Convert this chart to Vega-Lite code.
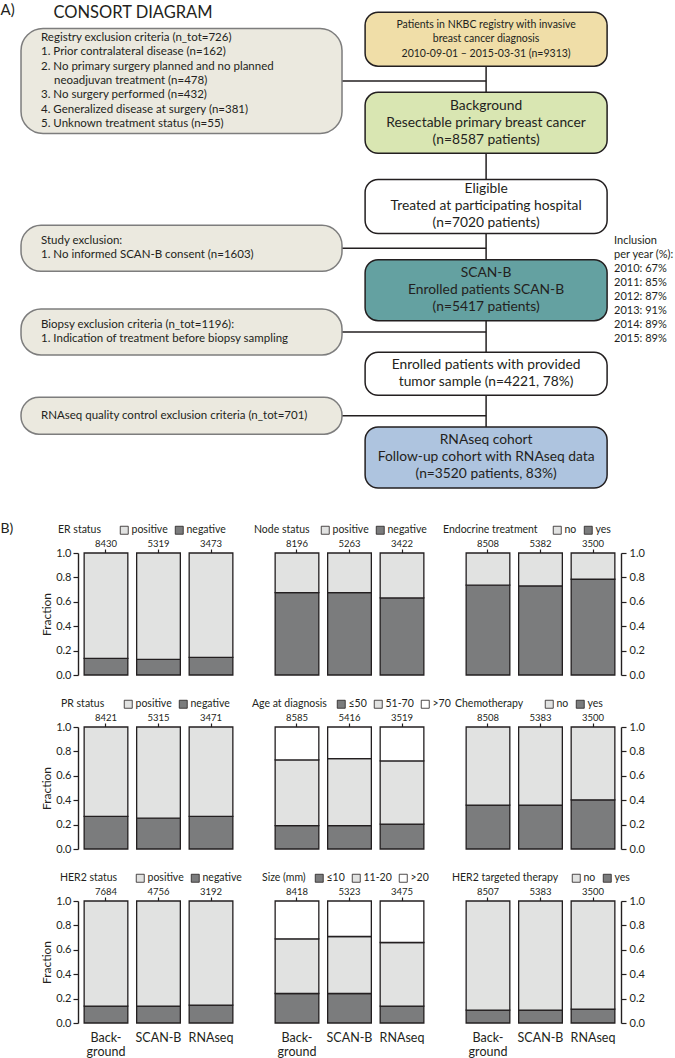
{
  "$schema": "https://vega.github.io/schema/vega-lite/v6.json",
  "padding": 0,
  "background": "white",
  "config": {
    "font": "Lato",
    "view": {"stroke": null},
    "axis": {"labelColor": "#231f20", "tickColor": "#231f20", "domainColor": "#231f20", "titleColor": "#231f20", "domainWidth": 1.4, "tickWidth": 1.2, "grid": false, "labelFont": "Lato", "titleFont": "Lato"},
    "legend": {"symbolType": "square", "symbolSize": 64, "symbolStrokeColor": "#231f20", "symbolStrokeWidth": 0.8, "labelFontSize": 10.5, "titleFontSize": 10.5, "titleFontWeight": "normal", "labelOffset": 2, "columnPadding": 5, "gridAlign": "none", "padding": 0, "labelColor": "#231f20", "titleColor": "#231f20", "titleAnchor": "middle", "titleBaseline": "middle"}
  },
  "datasets": {
    "links": [
      {"lane_a": "flow", "lane_b": "flow", "stage_a": "s0", "stage_b": "s5"},
      {"lane_a": "exclusion", "lane_b": "flow", "stage_a": "s0.5", "stage_b": "s0.5"},
      {"lane_a": "exclusion", "lane_b": "flow", "stage_a": "s2.5", "stage_b": "s2.5"},
      {"lane_a": "exclusion", "lane_b": "flow", "stage_a": "s3.5", "stage_b": "s3.5"},
      {"lane_a": "exclusion", "lane_b": "flow", "stage_a": "s4.5", "stage_b": "s4.5"}
    ],
    "boxes": [
      {"id": "nkbc", "lane": "flow", "stage": "s0", "tone": "registry", "label": "Patients in NKBC registry with invasive\nbreast cancer diagnosis\n2010-09-01 – 2015-03-31 (n=9313)"},
      {"id": "background", "lane": "flow", "stage": "s1", "tone": "background", "label": "Background\nResectable primary breast cancer\n(n=8587 patients)"},
      {"id": "eligible", "lane": "flow", "stage": "s2", "tone": "eligible", "label": "Eligible\nTreated at participating hospital\n(n=7020 patients)"},
      {"id": "scanb", "lane": "flow", "stage": "s3", "tone": "scanb", "label": "SCAN-B\nEnrolled patients SCAN-B\n(n=5417 patients)"},
      {"id": "sample", "lane": "flow", "stage": "s4", "tone": "sample", "label": "Enrolled patients with provided\ntumor sample (n=4221, 78%)"},
      {"id": "rnaseq", "lane": "flow", "stage": "s5", "tone": "rnaseq", "label": "RNAseq cohort\nFollow-up cohort with RNAseq data\n(n=3520 patients, 83%)"},
      {"id": "registry", "lane": "exclusion", "stage": "s0.5", "tone": "exclusion", "label": "Registry exclusion criteria (n_tot=726)\n1. Prior contralateral disease (n=162)\n2. No primary surgery planned and no planned"},
      {"id": "registry_cont", "lane": "exclusion", "stage": "s0.5", "tone": "exclusion", "label": "neoadjuvan treatment (n=478)"},
      {"id": "registry_rest", "lane": "exclusion", "stage": "s0.5", "tone": "exclusion", "label": "3. No surgery performed (n=432)\n4. Generalized disease at surgery (n=381)\n5. Unknown treatment status (n=55)"},
      {"id": "study", "lane": "exclusion", "stage": "s2.5", "tone": "exclusion", "label": "Study exclusion:\n1. No informed SCAN-B consent (n=1603)"},
      {"id": "biopsy", "lane": "exclusion", "stage": "s3.5", "tone": "exclusion", "label": "Biopsy exclusion criteria (n_tot=1196):\n1. Indication of treatment before biopsy sampling"},
      {"id": "qc", "lane": "exclusion", "stage": "s4.5", "tone": "exclusion", "label": "RNAseq quality control exclusion criteria (n_tot=701)"},
      {"id": "note", "lane": "flow", "stage": "s3", "tone": "note", "label": "Inclusion\nper year (%):\n2010: 67%\n2011: 85%\n2012: 87%\n2013: 91%\n2014: 89%\n2015: 89%"}
    ],
    "bars": [
      {"panel": "ER status", "cohort": "Background", "cat": "negative", "k": 1, "frac": 0.136, "n": 8430},
      {"panel": "ER status", "cohort": "Background", "cat": "positive", "k": 2, "frac": 0.864, "n": 8430},
      {"panel": "ER status", "cohort": "SCAN-B", "cat": "negative", "k": 1, "frac": 0.128, "n": 5319},
      {"panel": "ER status", "cohort": "SCAN-B", "cat": "positive", "k": 2, "frac": 0.872, "n": 5319},
      {"panel": "ER status", "cohort": "RNAseq", "cat": "negative", "k": 1, "frac": 0.144, "n": 3473},
      {"panel": "ER status", "cohort": "RNAseq", "cat": "positive", "k": 2, "frac": 0.856, "n": 3473},
      {"panel": "Node status", "cohort": "Background", "cat": "negative", "k": 1, "frac": 0.676, "n": 8196},
      {"panel": "Node status", "cohort": "Background", "cat": "positive", "k": 2, "frac": 0.324, "n": 8196},
      {"panel": "Node status", "cohort": "SCAN-B", "cat": "negative", "k": 1, "frac": 0.676, "n": 5263},
      {"panel": "Node status", "cohort": "SCAN-B", "cat": "positive", "k": 2, "frac": 0.324, "n": 5263},
      {"panel": "Node status", "cohort": "RNAseq", "cat": "negative", "k": 1, "frac": 0.632, "n": 3422},
      {"panel": "Node status", "cohort": "RNAseq", "cat": "positive", "k": 2, "frac": 0.368, "n": 3422},
      {"panel": "Endocrine treatment", "cohort": "Background", "cat": "yes", "k": 1, "frac": 0.736, "n": 8508},
      {"panel": "Endocrine treatment", "cohort": "Background", "cat": "no", "k": 2, "frac": 0.264, "n": 8508},
      {"panel": "Endocrine treatment", "cohort": "SCAN-B", "cat": "yes", "k": 1, "frac": 0.730, "n": 5382},
      {"panel": "Endocrine treatment", "cohort": "SCAN-B", "cat": "no", "k": 2, "frac": 0.270, "n": 5382},
      {"panel": "Endocrine treatment", "cohort": "RNAseq", "cat": "yes", "k": 1, "frac": 0.785, "n": 3500},
      {"panel": "Endocrine treatment", "cohort": "RNAseq", "cat": "no", "k": 2, "frac": 0.215, "n": 3500},
      {"panel": "PR status", "cohort": "Background", "cat": "negative", "k": 1, "frac": 0.267, "n": 8421},
      {"panel": "PR status", "cohort": "Background", "cat": "positive", "k": 2, "frac": 0.733, "n": 8421},
      {"panel": "PR status", "cohort": "SCAN-B", "cat": "negative", "k": 1, "frac": 0.253, "n": 5315},
      {"panel": "PR status", "cohort": "SCAN-B", "cat": "positive", "k": 2, "frac": 0.747, "n": 5315},
      {"panel": "PR status", "cohort": "RNAseq", "cat": "negative", "k": 1, "frac": 0.267, "n": 3471},
      {"panel": "PR status", "cohort": "RNAseq", "cat": "positive", "k": 2, "frac": 0.733, "n": 3471},
      {"panel": "Age at diagnosis", "cohort": "Background", "cat": "≤50", "k": 1, "frac": 0.191, "n": 8585},
      {"panel": "Age at diagnosis", "cohort": "Background", "cat": "51-70", "k": 2, "frac": 0.539, "n": 8585},
      {"panel": "Age at diagnosis", "cohort": "Background", "cat": ">70", "k": 3, "frac": 0.270, "n": 8585},
      {"panel": "Age at diagnosis", "cohort": "SCAN-B", "cat": "≤50", "k": 1, "frac": 0.191, "n": 5416},
      {"panel": "Age at diagnosis", "cohort": "SCAN-B", "cat": "51-70", "k": 2, "frac": 0.550, "n": 5416},
      {"panel": "Age at diagnosis", "cohort": "SCAN-B", "cat": ">70", "k": 3, "frac": 0.259, "n": 5416},
      {"panel": "Age at diagnosis", "cohort": "RNAseq", "cat": "≤50", "k": 1, "frac": 0.204, "n": 3519},
      {"panel": "Age at diagnosis", "cohort": "RNAseq", "cat": "51-70", "k": 2, "frac": 0.518, "n": 3519},
      {"panel": "Age at diagnosis", "cohort": "RNAseq", "cat": ">70", "k": 3, "frac": 0.278, "n": 3519},
      {"panel": "Chemotherapy", "cohort": "Background", "cat": "yes", "k": 1, "frac": 0.360, "n": 8508},
      {"panel": "Chemotherapy", "cohort": "Background", "cat": "no", "k": 2, "frac": 0.640, "n": 8508},
      {"panel": "Chemotherapy", "cohort": "SCAN-B", "cat": "yes", "k": 1, "frac": 0.360, "n": 5383},
      {"panel": "Chemotherapy", "cohort": "SCAN-B", "cat": "no", "k": 2, "frac": 0.640, "n": 5383},
      {"panel": "Chemotherapy", "cohort": "RNAseq", "cat": "yes", "k": 1, "frac": 0.403, "n": 3500},
      {"panel": "Chemotherapy", "cohort": "RNAseq", "cat": "no", "k": 2, "frac": 0.597, "n": 3500},
      {"panel": "HER2 status", "cohort": "Background", "cat": "negative", "k": 1, "frac": 0.139, "n": 7684},
      {"panel": "HER2 status", "cohort": "Background", "cat": "positive", "k": 2, "frac": 0.861, "n": 7684},
      {"panel": "HER2 status", "cohort": "SCAN-B", "cat": "negative", "k": 1, "frac": 0.139, "n": 4756},
      {"panel": "HER2 status", "cohort": "SCAN-B", "cat": "positive", "k": 2, "frac": 0.861, "n": 4756},
      {"panel": "HER2 status", "cohort": "RNAseq", "cat": "negative", "k": 1, "frac": 0.147, "n": 3192},
      {"panel": "HER2 status", "cohort": "RNAseq", "cat": "positive", "k": 2, "frac": 0.853, "n": 3192},
      {"panel": "Size (mm)", "cohort": "Background", "cat": "≤10", "k": 1, "frac": 0.242, "n": 8418},
      {"panel": "Size (mm)", "cohort": "Background", "cat": "11-20", "k": 2, "frac": 0.448, "n": 8418},
      {"panel": "Size (mm)", "cohort": "Background", "cat": ">20", "k": 3, "frac": 0.310, "n": 8418},
      {"panel": "Size (mm)", "cohort": "SCAN-B", "cat": "≤10", "k": 1, "frac": 0.242, "n": 5323},
      {"panel": "Size (mm)", "cohort": "SCAN-B", "cat": "11-20", "k": 2, "frac": 0.467, "n": 5323},
      {"panel": "Size (mm)", "cohort": "SCAN-B", "cat": ">20", "k": 3, "frac": 0.291, "n": 5323},
      {"panel": "Size (mm)", "cohort": "RNAseq", "cat": "≤10", "k": 1, "frac": 0.139, "n": 3475},
      {"panel": "Size (mm)", "cohort": "RNAseq", "cat": "11-20", "k": 2, "frac": 0.521, "n": 3475},
      {"panel": "Size (mm)", "cohort": "RNAseq", "cat": ">20", "k": 3, "frac": 0.340, "n": 3475},
      {"panel": "HER2 targeted therapy", "cohort": "Background", "cat": "yes", "k": 1, "frac": 0.106, "n": 8507},
      {"panel": "HER2 targeted therapy", "cohort": "Background", "cat": "no", "k": 2, "frac": 0.894, "n": 8507},
      {"panel": "HER2 targeted therapy", "cohort": "SCAN-B", "cat": "yes", "k": 1, "frac": 0.106, "n": 5383},
      {"panel": "HER2 targeted therapy", "cohort": "SCAN-B", "cat": "no", "k": 2, "frac": 0.894, "n": 5383},
      {"panel": "HER2 targeted therapy", "cohort": "RNAseq", "cat": "yes", "k": 1, "frac": 0.114, "n": 3500},
      {"panel": "HER2 targeted therapy", "cohort": "RNAseq", "cat": "no", "k": 2, "frac": 0.886, "n": 3500}
    ]
  },
  "vconcat": [
    {
      "width": 597,
      "height": 502,
      "encoding": {
        "x": {"field": "lane", "type": "nominal", "scale": {"type": "point", "domain": ["exclusion", "flow"], "padding": 0.48, "align": 0.354}, "axis": {"orient": "top", "domain": true, "domainOpacity": 0, "ticks": false, "labels": false, "grid": false, "title": "CONSORT DIAGRAM", "titleX": -25, "titleY": 12, "titleAlign": "left", "titleBaseline": "middle", "titleAngle": 0, "titleFontSize": 16.5, "titleFontWeight": "normal"}},
        "y": {"field": "stage", "type": "nominal", "scale": {"type": "point", "domain": ["s0", "s0.5", "s1", "s1.5", "s2", "s2.5", "s3", "s3.5", "s4", "s4.5", "s5"], "padding": 1.152, "align": 0.468}, "axis": {"orient": "left", "domain": true, "domainOpacity": 0, "ticks": false, "labels": false, "grid": false, "title": "A)", "titleX": -78, "titleY": 9, "titleAlign": "left", "titleBaseline": "middle", "titleAngle": 0, "titleFontSize": 15, "titleFontWeight": "normal"}}
      },
      "layer": [
        {
          "data": {"name": "links"},
          "mark": {"type": "rule", "color": "#231f20", "strokeWidth": 1.5},
          "encoding": {
            "x": {"field": "lane_a", "type": "nominal"},
            "x2": {"field": "lane_b"},
            "y": {"field": "stage_a", "type": "nominal"},
            "y2": {"field": "stage_b"}
          }
        },
        {
          "data": {"name": "boxes"},
          "transform": [{"filter": {"field": "id", "oneOf": ["registry"]}}],
          "mark": {"type": "rect", "width": 321, "height": 105, "cornerRadius": 22, "stroke": "#7d7d7d", "strokeWidth": 1.5},
          "encoding": {
            "fill": {"field": "tone", "type": "nominal", "scale": {"domain": ["registry", "background", "eligible", "scanb", "sample", "rnaseq", "exclusion"], "range": ["#f0dea8", "#d9e6b2", "#ffffff", "#64a1a1", "#ffffff", "#aec4df", "#ebe9df"]}, "legend": null}
          }
        },
        {
          "data": {"name": "boxes"},
          "transform": [{"filter": {"field": "id", "oneOf": ["study", "biopsy"]}}],
          "mark": {"type": "rect", "width": 321, "height": 46, "cornerRadius": 20, "stroke": "#7d7d7d", "strokeWidth": 1.5},
          "encoding": {"fill": {"field": "tone", "type": "nominal", "legend": null}}
        },
        {
          "data": {"name": "boxes"},
          "transform": [{"filter": {"field": "id", "oneOf": ["qc"]}}],
          "mark": {"type": "rect", "width": 321, "height": 37, "cornerRadius": 18, "stroke": "#7d7d7d", "strokeWidth": 1.5},
          "encoding": {"fill": {"field": "tone", "type": "nominal", "legend": null}}
        },
        {
          "data": {"name": "boxes"},
          "transform": [{"filter": {"field": "id", "oneOf": ["nkbc", "eligible"]}}],
          "mark": {"type": "rect", "width": 242, "height": 54, "cornerRadius": 13, "stroke": "#231f20", "strokeWidth": 1.5},
          "encoding": {"fill": {"field": "tone", "type": "nominal", "legend": null}}
        },
        {
          "data": {"name": "boxes"},
          "transform": [{"filter": {"field": "id", "oneOf": ["background", "scanb", "rnaseq"]}}],
          "mark": {"type": "rect", "width": 242, "height": 61, "cornerRadius": 13, "stroke": "#231f20", "strokeWidth": 1.5},
          "encoding": {"fill": {"field": "tone", "type": "nominal", "legend": null}}
        },
        {
          "data": {"name": "boxes"},
          "transform": [{"filter": {"field": "id", "oneOf": ["sample"]}}],
          "mark": {"type": "rect", "width": 242, "height": 43, "cornerRadius": 13, "stroke": "#231f20", "strokeWidth": 1.5},
          "encoding": {"fill": {"field": "tone", "type": "nominal", "legend": null}}
        },
        {
          "data": {"name": "boxes"},
          "transform": [{"filter": {"field": "id", "oneOf": ["nkbc"]}}],
          "mark": {"type": "text", "align": "center", "baseline": "middle", "lineBreak": "\n", "fontSize": 10.5, "lineHeight": 14.5, "dy": -14.5, "color": "#231f20"},
          "encoding": {"text": {"field": "label"}}
        },
        {
          "data": {"name": "boxes"},
          "transform": [{"filter": {"field": "id", "oneOf": ["background", "eligible", "scanb", "rnaseq"]}}],
          "mark": {"type": "text", "align": "center", "baseline": "middle", "lineBreak": "\n", "fontSize": 13.8, "lineHeight": 17, "dy": -17, "color": "#231f20"},
          "encoding": {"text": {"field": "label"}}
        },
        {
          "data": {"name": "boxes"},
          "transform": [{"filter": {"field": "id", "oneOf": ["sample"]}}],
          "mark": {"type": "text", "align": "center", "baseline": "middle", "lineBreak": "\n", "fontSize": 13.8, "lineHeight": 17, "dy": -8.5, "color": "#231f20"},
          "encoding": {"text": {"field": "label"}}
        },
        {
          "data": {"name": "boxes"},
          "transform": [{"filter": {"field": "id", "oneOf": ["registry"]}}],
          "mark": {"type": "text", "align": "left", "baseline": "middle", "lineBreak": "\n", "fontSize": 11.5, "lineHeight": 14.3, "dx": -140.5, "dy": -42.9, "color": "#231f20"},
          "encoding": {"text": {"field": "label"}}
        },
        {
          "data": {"name": "boxes"},
          "transform": [{"filter": {"field": "id", "oneOf": ["registry_cont"]}}],
          "mark": {"type": "text", "align": "left", "baseline": "middle", "fontSize": 11.5, "dx": -127.5, "color": "#231f20"},
          "encoding": {"text": {"field": "label"}}
        },
        {
          "data": {"name": "boxes"},
          "transform": [{"filter": {"field": "id", "oneOf": ["registry_rest"]}}],
          "mark": {"type": "text", "align": "left", "baseline": "middle", "lineBreak": "\n", "fontSize": 11.5, "lineHeight": 14.3, "dx": -140.5, "dy": 14.3, "color": "#231f20"},
          "encoding": {"text": {"field": "label"}}
        },
        {
          "data": {"name": "boxes"},
          "transform": [{"filter": {"field": "id", "oneOf": ["study", "biopsy"]}}],
          "mark": {"type": "text", "align": "left", "baseline": "middle", "lineBreak": "\n", "fontSize": 11.5, "lineHeight": 14.3, "dx": -140.5, "dy": -7.15, "color": "#231f20"},
          "encoding": {"text": {"field": "label"}}
        },
        {
          "data": {"name": "boxes"},
          "transform": [{"filter": {"field": "id", "oneOf": ["qc"]}}],
          "mark": {"type": "text", "align": "left", "baseline": "middle", "lineBreak": "\n", "fontSize": 11.5, "lineHeight": 14.3, "dx": -140.5, "color": "#231f20"},
          "encoding": {"text": {"field": "label"}}
        },
        {
          "data": {"name": "boxes"},
          "transform": [{"filter": {"field": "id", "oneOf": ["note"]}}],
          "mark": {"type": "text", "align": "left", "baseline": "middle", "lineBreak": "\n", "fontSize": 11, "lineHeight": 14.1, "dx": 128, "dy": -49.35, "color": "#231f20"},
          "encoding": {"text": {"field": "label"}}
        }
      ]
    },
    {
      "hconcat": [
        {
          "width": 161, "height": 122,
          "data": {"name": "bars"},
          "transform": [{"filter": "datum.panel === 'ER status'"}],
          "layer": [
            {
              "mark": {"type": "bar", "stroke": "#231f20", "strokeWidth": 1.3},
              "encoding": {
                "x": {"field": "cohort", "type": "nominal", "sort": null, "scale": {"paddingInner": 0.168, "paddingOuter": 0.117}, "axis": null},
                "y": {"field": "frac", "type": "quantitative", "stack": "zero", "scale": {"domain": [0, 1], "nice": false}, "axis": {"orient": "left", "values": [0, 0.2, 0.4, 0.6, 0.8, 1], "format": ".1f", "title": "Fraction", "titleFontSize": 12, "titleFontWeight": "normal", "titlePadding": 2, "labelFontSize": 11, "labelPadding": 2, "tickSize": 5}},
                "fill": {"field": "cat", "type": "nominal", "scale": {"domain": ["positive", "negative"], "range": ["#e1e2e1", "#7b7c7d"]}, "legend": {"title": "ER status", "orient": "none", "legendX": -20, "legendY": -28, "direction": "horizontal", "titleOrient": "left", "titlePadding": 18}},
                "order": {"field": "k", "type": "quantitative"}
              }
            },
            {
              "mark": {"type": "text", "text": ""},
              "encoding": {
                "x": {"field": "n", "type": "nominal", "sort": null, "scale": {"type": "band", "paddingInner": 0.168, "paddingOuter": 0.117}, "axis": {"orient": "top", "domain": false, "ticks": true, "tickSize": 4, "labelFontSize": 9.5, "labelPadding": 1, "labelAngle": 0, "title": "B)", "titleX": -78, "titleY": -25, "titleAlign": "left", "titleBaseline": "middle", "titleAngle": 0, "titleFontSize": 14, "titleFontWeight": "normal"}}
              }
            }
          ],
          "resolve": {"scale": {"x": "independent"}}
        },
        {
          "width": 161, "height": 122,
          "data": {"name": "bars"},
          "transform": [{"filter": "datum.panel === 'Node status'"}],
          "layer": [
            {
              "mark": {"type": "bar", "stroke": "#231f20", "strokeWidth": 1.3},
              "encoding": {
                "x": {"field": "cohort", "type": "nominal", "sort": null, "scale": {"paddingInner": 0.168, "paddingOuter": 0.117}, "axis": null},
                "y": {"field": "frac", "type": "quantitative", "stack": "zero", "scale": {"domain": [0, 1], "nice": false}, "axis": null},
                "fill": {"field": "cat", "type": "nominal", "scale": {"domain": ["positive", "negative"], "range": ["#e1e2e1", "#7b7c7d"]}, "legend": {"title": "Node status", "orient": "none", "legendX": -15, "legendY": -28, "direction": "horizontal", "titleOrient": "left", "titlePadding": 10}},
                "order": {"field": "k", "type": "quantitative"}
              }
            },
            {
              "mark": {"type": "text", "text": ""},
              "encoding": {
                "x": {"field": "n", "type": "nominal", "sort": null, "scale": {"type": "band", "paddingInner": 0.168, "paddingOuter": 0.117}, "axis": {"orient": "top", "domain": false, "ticks": true, "tickSize": 4, "labelFontSize": 9.5, "labelPadding": 1, "labelAngle": 0, "title": null}}
              }
            }
          ],
          "resolve": {"scale": {"x": "independent"}}
        },
        {
          "width": 161, "height": 122,
          "data": {"name": "bars"},
          "transform": [{"filter": "datum.panel === 'Endocrine treatment'"}],
          "layer": [
            {
              "mark": {"type": "bar", "stroke": "#231f20", "strokeWidth": 1.3},
              "encoding": {
                "x": {"field": "cohort", "type": "nominal", "sort": null, "scale": {"paddingInner": 0.168, "paddingOuter": 0.117}, "axis": null},
                "y": {"field": "frac", "type": "quantitative", "stack": "zero", "scale": {"domain": [0, 1], "nice": false}, "axis": {"orient": "right", "values": [0, 0.2, 0.4, 0.6, 0.8, 1], "format": ".1f", "title": null, "labelFontSize": 11, "labelPadding": 3, "tickSize": 5}},
                "fill": {"field": "cat", "type": "nominal", "scale": {"domain": ["no", "yes"], "range": ["#e1e2e1", "#7b7c7d"]}, "legend": {"title": "Endocrine treatment", "orient": "none", "legendX": -17, "legendY": -28, "direction": "horizontal", "titleOrient": "left", "titlePadding": 14}},
                "order": {"field": "k", "type": "quantitative"}
              }
            },
            {
              "mark": {"type": "text", "text": ""},
              "encoding": {
                "x": {"field": "n", "type": "nominal", "sort": null, "scale": {"type": "band", "paddingInner": 0.168, "paddingOuter": 0.117}, "axis": {"orient": "top", "domain": false, "ticks": true, "tickSize": 4, "labelFontSize": 9.5, "labelPadding": 1, "labelAngle": 0, "title": null}}
              }
            }
          ],
          "resolve": {"scale": {"x": "independent"}}
        }
      ],
      "spacing": 30,
      "bounds": "flush",
      "resolve": {"scale": {"fill": "independent"}}
    },
    {
      "hconcat": [
        {
          "width": 161, "height": 122,
          "data": {"name": "bars"},
          "transform": [{"filter": "datum.panel === 'PR status'"}],
          "layer": [
            {
              "mark": {"type": "bar", "stroke": "#231f20", "strokeWidth": 1.3},
              "encoding": {
                "x": {"field": "cohort", "type": "nominal", "sort": null, "scale": {"paddingInner": 0.168, "paddingOuter": 0.117}, "axis": null},
                "y": {"field": "frac", "type": "quantitative", "stack": "zero", "scale": {"domain": [0, 1], "nice": false}, "axis": {"orient": "left", "values": [0, 0.2, 0.4, 0.6, 0.8, 1], "format": ".1f", "title": "Fraction", "titleFontSize": 12, "titleFontWeight": "normal", "titlePadding": 2, "labelFontSize": 11, "labelPadding": 2, "tickSize": 5}},
                "fill": {"field": "cat", "type": "nominal", "scale": {"domain": ["positive", "negative"], "range": ["#e1e2e1", "#7b7c7d"]}, "legend": {"title": "PR status", "orient": "none", "legendX": -17, "legendY": -28, "direction": "horizontal", "titleOrient": "left", "titlePadding": 18}},
                "order": {"field": "k", "type": "quantitative"}
              }
            },
            {
              "mark": {"type": "text", "text": ""},
              "encoding": {
                "x": {"field": "n", "type": "nominal", "sort": null, "scale": {"type": "band", "paddingInner": 0.168, "paddingOuter": 0.117}, "axis": {"orient": "top", "domain": false, "ticks": true, "tickSize": 4, "labelFontSize": 9.5, "labelPadding": 1, "labelAngle": 0, "title": null}}
              }
            }
          ],
          "resolve": {"scale": {"x": "independent"}}
        },
        {
          "width": 161, "height": 122,
          "data": {"name": "bars"},
          "transform": [{"filter": "datum.panel === 'Age at diagnosis'"}],
          "layer": [
            {
              "mark": {"type": "bar", "stroke": "#231f20", "strokeWidth": 1.3},
              "encoding": {
                "x": {"field": "cohort", "type": "nominal", "sort": null, "scale": {"paddingInner": 0.168, "paddingOuter": 0.117}, "axis": null},
                "y": {"field": "frac", "type": "quantitative", "stack": "zero", "scale": {"domain": [0, 1], "nice": false}, "axis": null},
                "fill": {"field": "cat", "type": "nominal", "scale": {"domain": ["≤50", "51-70", ">70"], "range": ["#7b7c7d", "#e1e2e1", "#ffffff"]}, "legend": {"title": "Age at diagnosis", "orient": "none", "legendX": -17, "legendY": -28, "direction": "horizontal", "titleOrient": "left", "titlePadding": 9}},
                "order": {"field": "k", "type": "quantitative"}
              }
            },
            {
              "mark": {"type": "text", "text": ""},
              "encoding": {
                "x": {"field": "n", "type": "nominal", "sort": null, "scale": {"type": "band", "paddingInner": 0.168, "paddingOuter": 0.117}, "axis": {"orient": "top", "domain": false, "ticks": true, "tickSize": 4, "labelFontSize": 9.5, "labelPadding": 1, "labelAngle": 0, "title": null}}
              }
            }
          ],
          "resolve": {"scale": {"x": "independent"}}
        },
        {
          "width": 161, "height": 122,
          "data": {"name": "bars"},
          "transform": [{"filter": "datum.panel === 'Chemotherapy'"}],
          "layer": [
            {
              "mark": {"type": "bar", "stroke": "#231f20", "strokeWidth": 1.3},
              "encoding": {
                "x": {"field": "cohort", "type": "nominal", "sort": null, "scale": {"paddingInner": 0.168, "paddingOuter": 0.117}, "axis": null},
                "y": {"field": "frac", "type": "quantitative", "stack": "zero", "scale": {"domain": [0, 1], "nice": false}, "axis": {"orient": "right", "values": [0, 0.2, 0.4, 0.6, 0.8, 1], "format": ".1f", "title": null, "labelFontSize": 11, "labelPadding": 3, "tickSize": 5}},
                "fill": {"field": "cat", "type": "nominal", "scale": {"domain": ["no", "yes"], "range": ["#e1e2e1", "#7b7c7d"]}, "legend": {"title": "Chemotherapy", "orient": "none", "legendX": -5, "legendY": -28, "direction": "horizontal", "titleOrient": "left", "titlePadding": 20}},
                "order": {"field": "k", "type": "quantitative"}
              }
            },
            {
              "mark": {"type": "text", "text": ""},
              "encoding": {
                "x": {"field": "n", "type": "nominal", "sort": null, "scale": {"type": "band", "paddingInner": 0.168, "paddingOuter": 0.117}, "axis": {"orient": "top", "domain": false, "ticks": true, "tickSize": 4, "labelFontSize": 9.5, "labelPadding": 1, "labelAngle": 0, "title": null}}
              }
            }
          ],
          "resolve": {"scale": {"x": "independent"}}
        }
      ],
      "spacing": 30,
      "bounds": "flush",
      "resolve": {"scale": {"fill": "independent"}}
    },
    {
      "hconcat": [
        {
          "width": 161, "height": 122,
          "data": {"name": "bars"},
          "transform": [{"filter": "datum.panel === 'HER2 status'"}],
          "layer": [
            {
              "mark": {"type": "bar", "stroke": "#231f20", "strokeWidth": 1.3},
              "encoding": {
                "x": {"field": "cohort", "type": "nominal", "sort": null, "scale": {"paddingInner": 0.168, "paddingOuter": 0.117}, "axis": {"orient": "bottom", "domain": false, "ticks": false, "labelFontSize": 12.5, "labelPadding": 8, "labelLineHeight": 14.5, "labelAngle": 0, "title": null, "labelExpr": "datum.value == 'Background' ? ['Back-', 'ground'] : datum.value"}},
                "y": {"field": "frac", "type": "quantitative", "stack": "zero", "scale": {"domain": [0, 1], "nice": false}, "axis": {"orient": "left", "values": [0, 0.2, 0.4, 0.6, 0.8, 1], "format": ".1f", "title": "Fraction", "titleFontSize": 12, "titleFontWeight": "normal", "titlePadding": 2, "labelFontSize": 11, "labelPadding": 2, "tickSize": 5}},
                "fill": {"field": "cat", "type": "nominal", "scale": {"domain": ["positive", "negative"], "range": ["#e1e2e1", "#7b7c7d"]}, "legend": {"title": "HER2 status", "orient": "none", "legendX": -18, "legendY": -28, "direction": "horizontal", "titleOrient": "left", "titlePadding": 17}},
                "order": {"field": "k", "type": "quantitative"}
              }
            },
            {
              "mark": {"type": "text", "text": ""},
              "encoding": {
                "x": {"field": "n", "type": "nominal", "sort": null, "scale": {"type": "band", "paddingInner": 0.168, "paddingOuter": 0.117}, "axis": {"orient": "top", "domain": false, "ticks": true, "tickSize": 4, "labelFontSize": 9.5, "labelPadding": 1, "labelAngle": 0, "title": null}}
              }
            }
          ],
          "resolve": {"scale": {"x": "independent"}}
        },
        {
          "width": 161, "height": 122,
          "data": {"name": "bars"},
          "transform": [{"filter": "datum.panel === 'Size (mm)'"}],
          "layer": [
            {
              "mark": {"type": "bar", "stroke": "#231f20", "strokeWidth": 1.3},
              "encoding": {
                "x": {"field": "cohort", "type": "nominal", "sort": null, "scale": {"paddingInner": 0.168, "paddingOuter": 0.117}, "axis": {"orient": "bottom", "domain": false, "ticks": false, "labelFontSize": 12.5, "labelPadding": 8, "labelLineHeight": 14.5, "labelAngle": 0, "title": null, "labelExpr": "datum.value == 'Background' ? ['Back-', 'ground'] : datum.value"}},
                "y": {"field": "frac", "type": "quantitative", "stack": "zero", "scale": {"domain": [0, 1], "nice": false}, "axis": null},
                "fill": {"field": "cat", "type": "nominal", "scale": {"domain": ["≤10", "11-20", ">20"], "range": ["#7b7c7d", "#e1e2e1", "#ffffff"]}, "legend": {"title": "Size (mm)", "orient": "none", "legendX": -7, "legendY": -28, "direction": "horizontal", "titleOrient": "left", "titlePadding": 8}},
                "order": {"field": "k", "type": "quantitative"}
              }
            },
            {
              "mark": {"type": "text", "text": ""},
              "encoding": {
                "x": {"field": "n", "type": "nominal", "sort": null, "scale": {"type": "band", "paddingInner": 0.168, "paddingOuter": 0.117}, "axis": {"orient": "top", "domain": false, "ticks": true, "tickSize": 4, "labelFontSize": 9.5, "labelPadding": 1, "labelAngle": 0, "title": null}}
              }
            }
          ],
          "resolve": {"scale": {"x": "independent"}}
        },
        {
          "width": 161, "height": 122,
          "data": {"name": "bars"},
          "transform": [{"filter": "datum.panel === 'HER2 targeted therapy'"}],
          "layer": [
            {
              "mark": {"type": "bar", "stroke": "#231f20", "strokeWidth": 1.3},
              "encoding": {
                "x": {"field": "cohort", "type": "nominal", "sort": null, "scale": {"paddingInner": 0.168, "paddingOuter": 0.117}, "axis": {"orient": "bottom", "domain": false, "ticks": false, "labelFontSize": 12.5, "labelPadding": 8, "labelLineHeight": 14.5, "labelAngle": 0, "title": null, "labelExpr": "datum.value == 'Background' ? ['Back-', 'ground'] : datum.value"}},
                "y": {"field": "frac", "type": "quantitative", "stack": "zero", "scale": {"domain": [0, 1], "nice": false}, "axis": {"orient": "right", "values": [0, 0.2, 0.4, 0.6, 0.8, 1], "format": ".1f", "title": null, "labelFontSize": 11, "labelPadding": 3, "tickSize": 5}},
                "fill": {"field": "cat", "type": "nominal", "scale": {"domain": ["no", "yes"], "range": ["#e1e2e1", "#7b7c7d"]}, "legend": {"title": "HER2 targeted therapy", "orient": "none", "legendX": -8, "legendY": -28, "direction": "horizontal", "titleOrient": "left", "titlePadding": 12}},
                "order": {"field": "k", "type": "quantitative"}
              }
            },
            {
              "mark": {"type": "text", "text": ""},
              "encoding": {
                "x": {"field": "n", "type": "nominal", "sort": null, "scale": {"type": "band", "paddingInner": 0.168, "paddingOuter": 0.117}, "axis": {"orient": "top", "domain": false, "ticks": true, "tickSize": 4, "labelFontSize": 9.5, "labelPadding": 1, "labelAngle": 0, "title": null}}
              }
            }
          ],
          "resolve": {"scale": {"x": "independent"}}
        }
      ],
      "spacing": 30,
      "bounds": "flush",
      "resolve": {"scale": {"fill": "independent"}}
    }
  ],
  "spacing": 19,
  "bounds": "full",
  "resolve": {"scale": {"fill": "independent"}}
}
